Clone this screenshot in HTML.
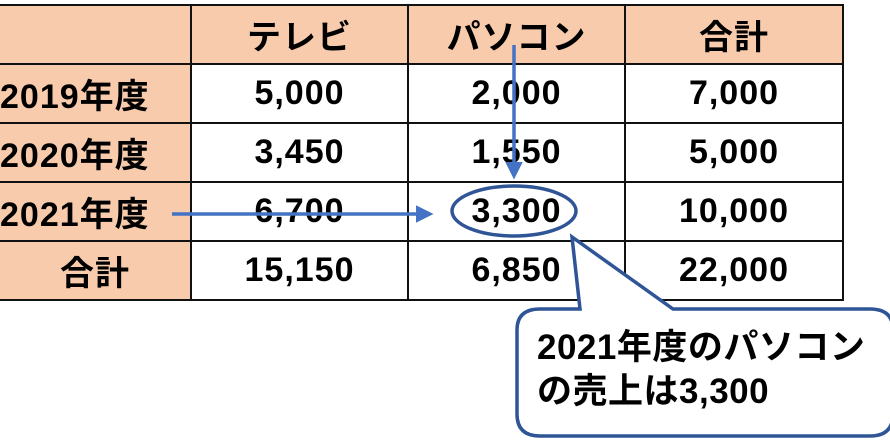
<!DOCTYPE html>
<html><head><meta charset="utf-8"><style>
body{margin:0;width:890px;height:440px;background:#fff;overflow:hidden;position:relative;font-family:"Liberation Sans","Noto Sans CJK JP",sans-serif}
table{position:absolute;left:-2px;top:4px;border-collapse:collapse}
td{border:2px solid #111;height:57px;text-align:center;font-size:34px;font-weight:bold;padding:0;color:#000;letter-spacing:1px}
td.h{background:#f8cbad}
svg{position:absolute;left:0;top:0}
.c{position:absolute;left:537px;top:326px;font-size:35px;font-weight:bold;line-height:44px;white-space:nowrap;letter-spacing:0.5px}
</style></head><body>
<table>
<tr><td class="h" style="width:190px"></td><td class="h" style="width:215px">テレビ</td><td class="h" style="width:215px">パソコン</td><td class="h" style="width:216px">合計</td></tr>
<tr><td class="h" style="text-align:left">2019年度</td><td>5,000</td><td>2,000</td><td>7,000</td></tr>
<tr><td class="h" style="text-align:left">2020年度</td><td>3,450</td><td>1,550</td><td>5,000</td></tr>
<tr><td class="h" style="text-align:left">2021年度</td><td>6,700</td><td>3,300</td><td>10,000</td></tr>
<tr><td class="h">合計</td><td>15,150</td><td>6,850</td><td>22,000</td></tr>
</table>
<svg width="890" height="440">
<defs><marker id="a" markerWidth="5" markerHeight="5" refX="4" refY="2.5" orient="auto" markerUnits="strokeWidth"><path d="M0,0L5,2.5L0,5z" fill="#4472c4"/></marker></defs>
<line x1="514" y1="45" x2="514" y2="176" stroke="#4472c4" stroke-width="3.5" marker-end="url(#a)"/>
<line x1="172" y1="214" x2="430" y2="214" stroke="#4472c4" stroke-width="3.5" marker-end="url(#a)"/>
<ellipse cx="514" cy="211" rx="62" ry="25" fill="none" stroke="#2f5597" stroke-width="3.5"/>
<path d="M580,309 L572,237 L673,309 L870,309 Q893,309 893,330 L893,414 Q893,436 870,436 L540,436 Q517,436 517,414 L517,330 Q517,309 540,309 Z" fill="#fff" stroke="#2f5597" stroke-width="3.5"/>
</svg>
<div class="c">2021年度のパソコン<br>の売上は3,300</div>
</body></html>
